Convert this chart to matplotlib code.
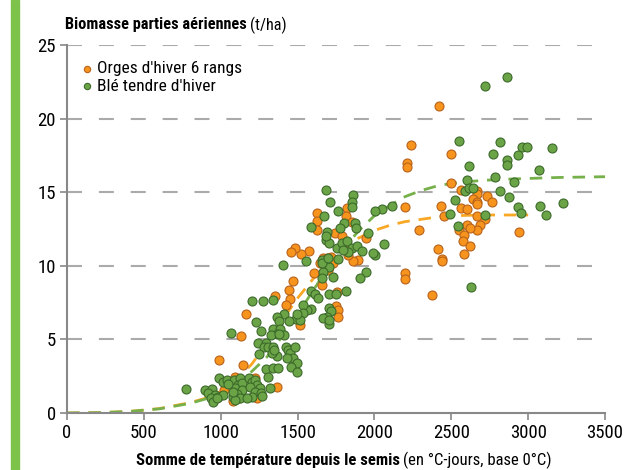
import matplotlib
matplotlib.use("Agg")
import matplotlib.pyplot as plt
from matplotlib.patches import Rectangle

plt.rcParams['font.family'] = ['Roboto Condensed', 'Archivo Narrow', 'PT Sans Narrow', 'DejaVu Sans']

# --- data ---
orge_x = [2420, 2238, 2498, 2212, 2212, 2498, 2561, 2665, 2669, 2643, 2665, 2665,
          2730, 2767, 2561, 2600, 2667, 2717, 2687, 2667, 2605, 2622, 2553, 2583,
          2578, 2622, 2583, 2433, 2455, 2416, 2438, 2438, 2201, 2292, 2201, 2201,
          2377, 2940,
          1628, 1628, 1628, 1822, 1817, 1854, 1744, 1787, 1815, 1945, 1577, 1522,
          1891, 1863, 1646, 1668, 1694, 1718, 1685, 1729, 1609, 1695, 1659, 1830,
          1798, 1483, 1455, 1757, 1750, 1765, 1765, 1472, 1444, 1451, 1425, 1353,
          1516,
          1165, 987, 1130, 1143, 1093, 1021, 1104, 1121, 1078, 1223, 1234, 1364]
orge_y = [20.85, 18.2, 17.6, 17.0, 16.7, 15.6, 15.15, 15.1, 14.9, 14.55, 14.35, 14.2,
          14.75, 14.35, 13.9, 13.85, 13.35, 13.15, 12.8, 12.4, 12.8, 12.6, 12.4, 12.1,
          11.7, 11.35, 10.8, 14.05, 13.35, 11.15, 10.45, 10.3, 14.0, 12.4, 9.5, 9.1,
          8.04, 12.3,
          13.6, 13.05, 12.4, 13.95, 13.4, 13.0, 12.2, 12.0, 11.6, 11.87, 11.0, 10.8,
          10.4, 10.3, 10.2, 10.5, 10.5, 10.6, 10.3, 10.2, 9.5, 9.7, 8.7, 10.7,
          11.4, 11.2, 10.95, 8.25, 7.27, 7.0, 6.5, 8.97, 8.35, 7.72, 7.34, 7.95,
          5.98,
          6.75, 3.6, 5.2, 3.25, 2.47, 1.56, 1.0, 1.0, 0.82, 2.4, 1.0, 1.75]

ble_x = [2865, 2720, 2553, 2815, 2770, 2962, 2995, 3155, 2865, 2861, 2936, 3071,
         2615, 2783, 2910, 2602, 2587, 2615, 2643, 2526, 2815, 2878, 2934, 3077,
         3229, 2954, 3116, 2717, 2494, 2546, 2631, 2049, 2117, 2004, 2060,
         1685, 1863, 1852, 1856, 1711, 1765, 1674, 1585, 1874, 1880, 1956, 1690,
         1685, 1707, 1755, 1787, 1820, 1852, 1885, 1830, 1917, 1794, 1657, 1707,
         1668, 1733, 1657, 1765, 1943, 1906, 2004, 1993, 1403, 1555, 1805, 1773,
         1688, 1588, 1615, 1633, 1707, 1748, 1814, 1587, 1563, 1537, 1533, 1488,
         1516, 1702, 1716, 1690, 1668, 1706, 1702, 1661, 1700,
         1204, 1273, 1342, 1414, 1368, 1381, 1494, 1446, 1228, 1260, 1342, 1386,
         1364, 1325, 1414, 1377, 1065, 1241, 1295, 1282, 1249, 1306, 1342, 1366,
         1332, 1349, 1425, 1440, 1451, 1483, 1472, 1494, 1457, 1498, 1433, 1295,
         1342, 1375, 1310, 1321,
         989, 1017, 1039, 1072, 1087, 1126, 1115, 1137, 1093, 1137, 1104, 1078,
         1126, 1093, 898, 941, 919, 963, 935, 984, 1017, 948, 974, 1186, 1202,
         1223, 1234, 1191, 1256, 1223, 1260, 1202, 1169, 1267, 774, 1049, 1082]
ble_y = [22.8, 22.2, 18.5, 18.4, 17.6, 18.05, 18.05, 18.0, 17.2, 16.85, 17.5, 16.5,
         16.8, 16.05, 15.7, 15.8, 15.1, 15.3, 15.3, 14.5, 15.05, 14.65, 14.0, 14.06,
         14.25, 13.57, 13.43, 13.45, 13.5, 12.7, 8.54, 13.84, 14.06, 13.74, 11.46,
         15.15, 14.8, 14.3, 14.0, 14.33, 13.7, 13.4, 12.66, 12.9, 12.55, 12.2, 12.3,
         11.75, 11.57, 11.2, 11.53, 11.7, 11.2, 11.35, 10.96, 11.0, 11.07, 10.4, 9.94,
         9.6, 9.26, 9.15, 10.44, 9.6, 9.15, 10.73, 10.85, 10.05, 10.3, 12.9, 12.6,
         12.0, 8.3, 8.05, 7.8, 8.1, 8.1, 8.3, 7.05, 7.0, 7.34, 6.8, 6.39,
         6.32, 7.15, 6.93, 6.54, 6.43, 6.03, 6.32, 10.2, 10.5,
         7.6, 7.6, 7.7, 6.7, 6.5, 6.27, 6.7, 6.27, 6.16, 5.55, 5.7, 5.7,
         5.35, 5.3, 5.3, 5.35, 5.4, 4.73, 4.78, 4.5, 4.0, 4.48, 4.5, 3.87,
         4.06, 4.28, 4.5, 4.28, 4.06, 4.5, 3.72, 3.38, 3.15, 2.8, 3.72, 3.0,
         3.08, 3.08, 2.43, 1.68,
         2.38, 2.13, 2.26, 1.97, 2.26, 2.36, 1.9, 2.02, 1.68, 1.56, 1.27, 1.11,
         1.0, 0.88, 1.56, 1.61, 1.34, 1.22, 1.0, 1.11, 1.22, 0.77, 1.0, 2.4, 2.13,
         2.24, 1.9, 1.79, 1.68, 1.45, 1.34, 1.11, 1.04, 1.18, 1.6, 2.0, 1.45]

orge_fit_x = [0, 200, 400, 600, 800, 900, 1000, 1100, 1200, 1300, 1400, 1500,
              1600, 1700, 1800, 1900, 2000, 2100, 2200, 2300, 2400, 2500, 2700, 3000]
orge_fit_y = [0, 0.02, 0.1, 0.3, 0.7, 1.0, 1.45, 2.2, 3.3, 4.7, 6.3, 7.8,
              9.1, 10.3, 11.2, 11.9, 12.4, 12.75, 13.0, 13.15, 13.3, 13.4, 13.45, 13.45]
ble_fit_x = [0, 200, 400, 600, 800, 900, 1000, 1100, 1200, 1300, 1400, 1500, 1600,
             1700, 1800, 1900, 2000, 2100, 2200, 2300, 2400, 2500, 2700, 2900, 3200, 3500]
ble_fit_y = [0, 0.02, 0.1, 0.28, 0.65, 0.95, 1.35, 1.9, 2.8, 3.8, 5.2, 6.7, 8.3,
             9.9, 11.2, 12.4, 13.4, 14.1, 14.7, 15.1, 15.4, 15.6, 15.8, 15.9, 16.0, 16.05]

xticks = [0, 500, 1000, 1500, 2000, 2500, 3000, 3500]
yticks = [0, 5, 10, 15, 20, 25]

fig = plt.figure(figsize=(6.28, 4.70), dpi=100)
ax = fig.add_axes([0.1067, 0.1213, 0.8567, 0.7830])

# green band on the left edge
fig.patches.append(Rectangle((11 / 628, 0), 8 / 628, 1, transform=fig.transFigure,
                             color='#7DC24B', zorder=0))

for v in yticks[1:]:
    ax.axhline(v, color='#AAAAAA', lw=1.5, dashes=(7.2, 8.1), zorder=1)

ax.plot(orge_fit_x, orge_fit_y, color='#F9A825', lw=2.0, dashes=(4.5, 3.2), zorder=2)
ax.plot(ble_fit_x, ble_fit_y, color='#76B04A', lw=2.0, dashes=(4.5, 3.2), zorder=2)

ax.scatter(orge_x, orge_y, s=42, color='#F7941D', edgecolor='#B8621B', lw=0.8,
           zorder=3, label="Orges d'hiver 6 rangs")
ax.scatter(ble_x, ble_y, s=42, color='#6BA446', edgecolor='#3C6A2B', lw=0.8,
           zorder=4, label="Blé tendre d'hiver")

ax.set_xlim(0, 3500)
ax.set_ylim(0, 25)
ax.set_xticks(xticks)
ax.set_yticks(yticks)
ax.tick_params(labelsize=13.5, color='#888888', length=5, width=1.2, pad=3)
for s in ['top', 'right']:
    ax.spines[s].set_visible(False)
for s in ['left', 'bottom']:
    ax.spines[s].set_color('#888888')
    ax.spines[s].set_linewidth(1.5)

ax.legend(loc='upper left', bbox_to_anchor=(0.005, 0.975), frameon=False,
          fontsize=12.5, handletextpad=0.0, labelspacing=0.15, borderaxespad=0,
          scatterpoints=1, markerscale=0.7, handlelength=1.2)

# titles made of bold + regular parts
fig.canvas.draw()
r = fig.canvas.get_renderer()
t1 = fig.text(65 / 628, 1 - 25 / 470, "Biomasse parties aériennes", fontsize=11.7,
              fontweight='bold', va='center', ha='left')
w1 = t1.get_window_extent(r).width
fig.text((65 + w1 + 3) / 628, 1 - 25 / 470, "(t/ha)", fontsize=11.7,
         va='center', ha='left')

b = fig.text(0, 1 - 460 / 470, "Somme de température depuis le semis", fontsize=12,
             fontweight='bold', va='center', ha='left')
c = fig.text(0, 1 - 460 / 470, "(en °C-jours, base 0°C)", fontsize=12,
             va='center', ha='left')
wb = b.get_window_extent(r).width
wc = c.get_window_extent(r).width
x0 = 344 - (wb + 3 + wc) / 2
b.set_x(x0 / 628)
c.set_x((x0 + wb + 3) / 628)

fig.savefig("out.png", dpi=100)
